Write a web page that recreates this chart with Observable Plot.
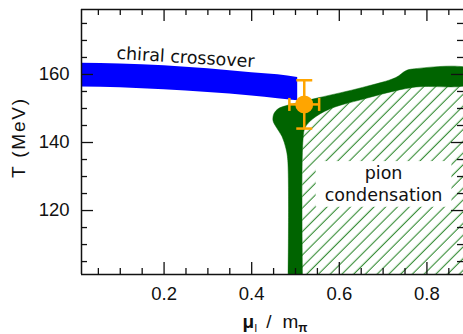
<!DOCTYPE html>
<html><head><meta charset="utf-8">
<script src="https://cdn.jsdelivr.net/npm/d3@7"></script>
<script src="https://cdn.jsdelivr.net/npm/@observablehq/plot@0.6"></script>
<style>html,body{margin:0;padding:0;background:#fff;}</style>
</head><body><div id="chart"></div>
<script>
// ---- axes ----
const xDomain = [0.0115, 0.8835];
const yDomain = [101.2, 179.1];
const xMajorTicks = [0.2, 0.4, 0.6, 0.8];
const xTickLabels = ["0.2", "0.4", "0.6", "0.8"];
const xMinorTicks = [0.05, 0.1, 0.15, 0.25, 0.3, 0.35, 0.45, 0.5, 0.55, 0.65, 0.7, 0.75, 0.85];
const yMajorTicks = [120, 140, 160];
const yTickLabels = ["120", "140", "160"];
const yMinorTicks = [105, 110, 115, 125, 130, 135, 145, 150, 155, 165, 170, 175];

// ---- chiral crossover band ----
const chiralMu     = [0.0115, 0.1,   0.2,   0.3,   0.4,   0.46,  0.505];
const chiralTop    = [163.3,  163.1, 162.6, 161.7, 160.5, 159.9, 159.1];
const chiralBottom = [156.3,  156.1, 155.5, 154.7, 153.7, 152.9, 152.3];

// ---- pion condensation boundary band (outer edge, then inner edge) ----
const pionOuterMu = [0.483, 0.4824, 0.4783, 0.4692, 0.4566, 0.4486, 0.4509, 0.4612, 0.4779, 0.5114, 0.5541, 0.653, 0.729, 0.7518, 0.7671, 0.90];
const pionOuterT  = [99.4,  134.7,  138.2,  141.8,  144.4,  146.5,  148.5,  150.0,  150.8,  151.9,  153.2,  156.2, 159.1, 161.1,  161.6,  161.5];
const pionInnerMu = [0.90,  0.767, 0.653, 0.577, 0.539, 0.522, 0.517, 0.516];
const pionInnerT  = [157.4, 156.2, 152.7, 149.8, 146.9, 144.4, 140.6, 99.4];

// ---- lattice point ----
const pointMu = [0.52];
const pointT = [151.2];
const pointErrMu = [0.034];
const pointErrT = [7.1];

// ---- labels ----
const chiralLabel = ["chiral crossover"];
const pionLabel = ["pion\ncondensation"];

// tables built from the arrays
const chiral = chiralMu.map((m, i) => ({mu: m, hi: chiralTop[i], lo: chiralBottom[i]}));
const pionBand = [
  ...pionOuterMu.map((m, i) => ({mu: m, T: pionOuterT[i]})),
  ...pionInnerMu.map((m, i) => ({mu: m, T: pionInnerT[i]}))
];
const hatch = pionInnerMu.map((m, i) => ({mu: m, T: pionInnerT[i]})).reverse();
const pts = pointMu.map((m, i) => ({mu: m, T: pointT[i], em: pointErrMu[i], eT: pointErrT[i]}));

const orange = "#ffa500";
const green = "#006400";
const W = 463, H = 334, mL = 81, mR = 0, mT = 9, mB = 60;
const fw = W - mL - mR, fh = H - mT - mB;

const vbar = {draw(ctx, size) { const h = Math.sqrt(size / Math.PI); ctx.moveTo(0, -h); ctx.lineTo(0, h); }};
const hbar = {draw(ctx, size) { const h = Math.sqrt(size / Math.PI); ctx.moveTo(-h, 0); ctx.lineTo(h, 0); }};

const tickStyle = {stroke: "#111", strokeWidth: 1.3};

const chart = Plot.plot({
  width: W, height: H,
  marginLeft: mL, marginRight: mR, marginTop: mT, marginBottom: mB,
  x: {domain: xDomain},
  y: {domain: yDomain},
  style: {fontFamily: "Liberation Sans, Arial, sans-serif", fontSize: "18px", background: "#fff"},
  marks: [
    Plot.areaY(hatch, {x: "mu", y1: yDomain[0] - 3, y2: "T", fill: "url(#hatch)", clip: true}),
    Plot.areaY(chiral, {x: "mu", y1: "lo", y2: "hi", fill: "#0000ff", curve: "monotone-x", clip: true}),
    Plot.line(pionBand, {x: "mu", y: "T", fill: green, stroke: green, strokeWidth: 0.5, curve: "catmull-rom", clip: true}),
    Plot.text(chiralLabel, {x: 0.249, y: 165.0, text: d => d, rotate: 3.5, fontFamily: "DejaVu Sans", fontSize: 17.5, fill: "#111", stroke: "#fff", strokeWidth: 0.6}),
    Plot.text(pionLabel, {x: 0.701, y: 128.1, text: d => d, lineHeight: 1.24, fontFamily: "DejaVu Sans", fontSize: 17.5, fill: "#111", stroke: "#fff", strokeWidth: 0.6}),
    // error bars
    Plot.link(pts, {x1: d => d.mu - d.em, x2: d => d.mu + d.em, y1: "T", y2: "T", stroke: orange, strokeWidth: 2.5}),
    Plot.link(pts, {x1: "mu", x2: "mu", y1: d => d.T - d.eT, y2: d => d.T + d.eT, stroke: orange, strokeWidth: 2.5}),
    Plot.dot(pts, {x: d => d.mu - d.em, y: "T", r: 6.5, symbol: vbar, stroke: orange, strokeWidth: 2.5, fill: "none"}),
    Plot.dot(pts, {x: d => d.mu + d.em, y: "T", r: 6.5, symbol: vbar, stroke: orange, strokeWidth: 2.5, fill: "none"}),
    Plot.dot(pts, {x: "mu", y: d => d.T - d.eT, r: 8, symbol: hbar, stroke: orange, strokeWidth: 2.5, fill: "none"}),
    Plot.dot(pts, {x: "mu", y: d => d.T + d.eT, r: 8, symbol: hbar, stroke: orange, strokeWidth: 2.5, fill: "none"}),
    Plot.dot(pts, {x: "mu", y: "T", r: 9, fill: orange, stroke: "none"}),
    // ticks (inward)
    Plot.tickX(xMinorTicks, {x: d => d, insetTop: fh - 6, ...tickStyle}),
    Plot.tickX(xMajorTicks, {x: d => d, insetTop: fh - 12, ...tickStyle}),
    Plot.tickX(xMinorTicks, {x: d => d, insetBottom: fh - 6, ...tickStyle}),
    Plot.tickX(xMajorTicks, {x: d => d, insetBottom: fh - 12, ...tickStyle}),
    Plot.tickY(yMinorTicks, {y: d => d, insetRight: fw - 6, ...tickStyle}),
    Plot.tickY(yMajorTicks, {y: d => d, insetRight: fw - 12, ...tickStyle}),
    Plot.tickY(yMinorTicks, {y: d => d, insetLeft: fw - 6, ...tickStyle}),
    Plot.tickY(yMajorTicks, {y: d => d, insetLeft: fw - 12, ...tickStyle}),
    // frame lines
    Plot.ruleX([xDomain[0]], {stroke: "#111", strokeWidth: 1.5}),
    Plot.ruleY([yDomain[0]], {stroke: "#111", strokeWidth: 1.5}),
    Plot.ruleY([yDomain[1]], {stroke: "#111", strokeWidth: 1.5}),
    // tick labels
    Plot.axisX(xMajorTicks, {anchor: "bottom", tickSize: 0, tickPadding: 12, tickFormat: d => xTickLabels[xMajorTicks.indexOf(d)], label: null, fontSize: 18.5, fill: "#111"}),
    Plot.axisY(yMajorTicks, {anchor: "left", tickSize: 0, tickPadding: 12, tickFormat: d => yTickLabels[yMajorTicks.indexOf(d)], label: null, fontSize: 18.5, fill: "#111"})
  ]
});
document.getElementById("chart").append(chart);

const svg = d3.select(chart);
// hatch pattern
const defs = svg.insert("defs", ":first-child");
const pat = defs.append("pattern").attr("id", "hatch").attr("patternUnits", "userSpaceOnUse")
  .attr("width", 8.3).attr("height", 8.3).attr("patternTransform", "rotate(45)");
pat.append("line").attr("x1", 4).attr("y1", -1).attr("x2", 4).attr("y2", 9.3)
  .attr("stroke", "#1f801f").attr("stroke-width", 1);

// white box behind the pion label
const pionText = svg.selectAll("text").filter(function() { return this.textContent.includes("condensation"); }).node();
if (pionText) {
  const bb = pionText.getBBox();
  const rect = document.createElementNS("http://www.w3.org/2000/svg", "rect");
  rect.setAttribute("x", bb.x - 9);
  rect.setAttribute("y", bb.y - 2);
  rect.setAttribute("width", bb.width + 18);
  rect.setAttribute("height", bb.height + 4);
  rect.setAttribute("fill", "#fff");
  rect.setAttribute("stroke", "none");
  const tr = pionText.getAttribute("transform");
  if (tr) rect.setAttribute("transform", tr);
  pionText.parentNode.insertBefore(rect, pionText);
}

// axis titles
svg.append("text")
  .attr("transform", "translate(18.7,137.5) rotate(-90)")
  .attr("text-anchor", "middle").attr("dy", "0.35em")
  .attr("font-family", "Liberation Sans, Arial, sans-serif").attr("font-size", 19)
  .attr("letter-spacing", 1.8).attr("fill", "#111")
  .text("T (MeV)");
const xt = svg.append("text")
  .attr("x", 275).attr("y", 328).attr("text-anchor", "middle")
  .attr("font-family", "Liberation Sans, Arial, sans-serif").attr("font-size", 19).attr("fill", "#111");
xt.append("tspan").attr("font-weight", "bold").text("μ");
xt.append("tspan").attr("font-size", 11).attr("dy", 4).text("I");
xt.append("tspan").attr("dy", -4).attr("dx", 9).text("/");
xt.append("tspan").attr("dx", 11).text("m");
xt.append("tspan").attr("font-size", 12).attr("font-weight", "bold").attr("dy", 4).text("π");
</script>
</body></html>
